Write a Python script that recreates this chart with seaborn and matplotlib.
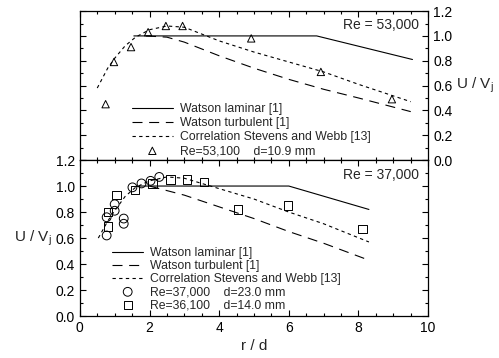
import matplotlib
matplotlib.use("Agg")
import matplotlib.pyplot as plt
import seaborn as sns
from matplotlib.ticker import MultipleLocator

# ---- data: top panel (Re = 53,000) ----
top_lam_r = [1.55, 6.8, 9.55]
top_lam_v = [1.0, 1.0, 0.81]
top_turb_r = [1.9, 2.5, 3.0, 4.0, 5.0, 6.0, 7.0, 8.0, 9.5]
top_turb_v = [1.0, 0.99, 0.95, 0.84, 0.74, 0.65, 0.57, 0.50, 0.39]
top_corr_r = [0.5, 0.8, 1.0, 1.3, 1.6, 2.0, 2.5, 3.0, 4.0, 5.0, 6.0, 7.0, 8.0, 9.5]
top_corr_v = [0.58, 0.74, 0.82, 0.92, 0.99, 1.05, 1.08, 1.07, 0.96, 0.87, 0.79, 0.71, 0.61, 0.47]
tri_r = [0.74, 0.98, 1.47, 1.96, 2.47, 2.95, 4.92, 6.92, 8.96]
tri_v = [0.45, 0.79, 0.91, 1.03, 1.08, 1.08, 0.98, 0.71, 0.49]

# ---- data: bottom panel (Re = 37,000) ----
bot_lam_r = [1.7, 6.0, 8.3]
bot_lam_v = [1.0, 1.0, 0.82]
bot_turb_r = [2.0, 3.0, 4.0, 5.0, 6.0, 7.0, 8.3]
bot_turb_v = [1.0, 0.93, 0.84, 0.75, 0.65, 0.56, 0.43]
bot_corr_r = [0.53, 0.8, 1.0, 1.3, 1.6, 2.0, 2.5, 3.0, 4.0, 5.0, 6.0, 7.0, 8.3]
bot_corr_v = [0.60, 0.73, 0.81, 0.92, 0.99, 1.04, 1.07, 1.06, 0.98, 0.90, 0.80, 0.71, 0.57]
circ_r = [0.77, 0.77, 1.0, 1.0, 1.26, 1.26, 1.51, 1.77, 2.03, 2.28]
circ_v = [0.62, 0.76, 0.81, 0.86, 0.75, 0.71, 0.99, 1.02, 1.04, 1.07]
sq_r = [0.81, 0.81, 1.05, 1.58, 2.09, 2.6, 3.07, 3.56, 4.55, 5.97, 8.12]
sq_v = [0.69, 0.80, 0.93, 0.97, 1.02, 1.05, 1.05, 1.03, 0.82, 0.85, 0.67]

yticks = [0.0, 0.2, 0.4, 0.6, 0.8, 1.0, 1.2]
xticks = [0, 2, 4, 6, 8, 10]

sns.set_style("ticks")
plt.rcParams['font.family'] = ['Liberation Sans', 'DejaVu Sans']
plt.rcParams['mathtext.fontset'] = 'custom'
plt.rcParams['mathtext.rm'] = 'Liberation Sans'

fig = plt.figure(figsize=(4.99, 3.58), dpi=100)
ax_top = fig.add_axes([0.160, 0.553, 0.698, 0.416])
ax_bot = fig.add_axes([0.160, 0.117, 0.698, 0.436])

LONG = (0, (9, 6))
SHORT = (0, (3, 3))
lw = 0.8

# top panel
sns.lineplot(x=top_lam_r, y=top_lam_v, ax=ax_top, color='k', lw=lw, label='Watson laminar [1]')
sns.lineplot(x=top_turb_r, y=top_turb_v, ax=ax_top, color='k', lw=lw, linestyle=LONG, label='Watson turbulent [1]')
sns.lineplot(x=top_corr_r, y=top_corr_v, ax=ax_top, color='k', lw=lw, linestyle=SHORT, label='Correlation Stevens and Webb [13]')
sns.scatterplot(x=tri_r, y=tri_v, ax=ax_top, marker='^', s=28, facecolor='none', edgecolor='k', color='k',
                linewidth=0.7, label='Re=53,100    d=10.9 mm')

# bottom panel
sns.lineplot(x=bot_lam_r, y=bot_lam_v, ax=ax_bot, color='k', lw=lw, label='Watson laminar [1]')
sns.lineplot(x=bot_turb_r, y=bot_turb_v, ax=ax_bot, color='k', lw=lw, linestyle=LONG, label='Watson turbulent [1]')
sns.lineplot(x=bot_corr_r, y=bot_corr_v, ax=ax_bot, color='k', lw=lw, linestyle=SHORT, label='Correlation Stevens and Webb [13]')
sns.scatterplot(x=circ_r, y=circ_v, ax=ax_bot, marker='o', s=40, facecolor='none', edgecolor='k', color='k',
                linewidth=0.7, label='Re=37,000    d=23.0 mm')
sns.scatterplot(x=sq_r, y=sq_v, ax=ax_bot, marker='s', s=36, facecolor='none', edgecolor='k', color='k',
                linewidth=0.7, label='Re=36,100    d=14.0 mm')

for ax in (ax_top, ax_bot):
    ax.set_xlim(0, 10)
    ax.set_ylim(0, 1.2)
    ax.set_xticks(xticks)
    ax.set_yticks(yticks)
    ax.xaxis.set_minor_locator(MultipleLocator(0.5))
    ax.yaxis.set_minor_locator(MultipleLocator(0.1))
    for s in ax.spines.values():
        s.set_linewidth(0.9)
        s.set_color('k')
    ax.tick_params(which='both', direction='in', top=True, right=True, width=0.8, colors='k')
    ax.tick_params(which='major', length=4, labelsize=10)
    ax.tick_params(which='minor', length=2)
    ax.set_xlabel('')
    ax.set_ylabel('')

# top axis: labels on the right
ax_top.tick_params(labelleft=False, labelbottom=False, labelright=True, bottom=False)
ax_top.set_yticks(yticks)
ax_top.set_yticklabels([f'{v:.1f}' for v in yticks])
ax_top.yaxis.set_label_position('right')
ax_top.set_ylabel(r'U / V$_\mathrm{j}$', fontsize=11, rotation=0, labelpad=16, va='center')

ax_bot.set_yticklabels([f'{v:.1f}' for v in yticks])
ax_bot.set_xticklabels([str(v) for v in xticks])
ax_bot.set_xlabel('r / d', fontsize=11, labelpad=3)
ax_bot.set_ylabel(r'U / V$_\mathrm{j}$', fontsize=11, rotation=0, labelpad=16, va='center')

ax_top.text(0.975, 0.91, 'Re = 53,000', transform=ax_top.transAxes, ha='right', va='center', fontsize=10)
ax_bot.text(0.975, 0.905, 'Re = 37,000', transform=ax_bot.transAxes, ha='right', va='center', fontsize=10)

ax_top.legend(loc='upper left', bbox_to_anchor=(0.145, 0.39), frameon=False, fontsize=8.8,
              handlelength=3.4, handletextpad=0.6, labelspacing=0.16, borderpad=0.1, borderaxespad=0)
ax_bot.legend(loc='upper left', bbox_to_anchor=(0.09, 0.45), frameon=False, fontsize=8.8,
              handlelength=2.5, handletextpad=0.6, labelspacing=0.08, borderpad=0.1, borderaxespad=0)

fig.savefig('out.png', dpi=100)
